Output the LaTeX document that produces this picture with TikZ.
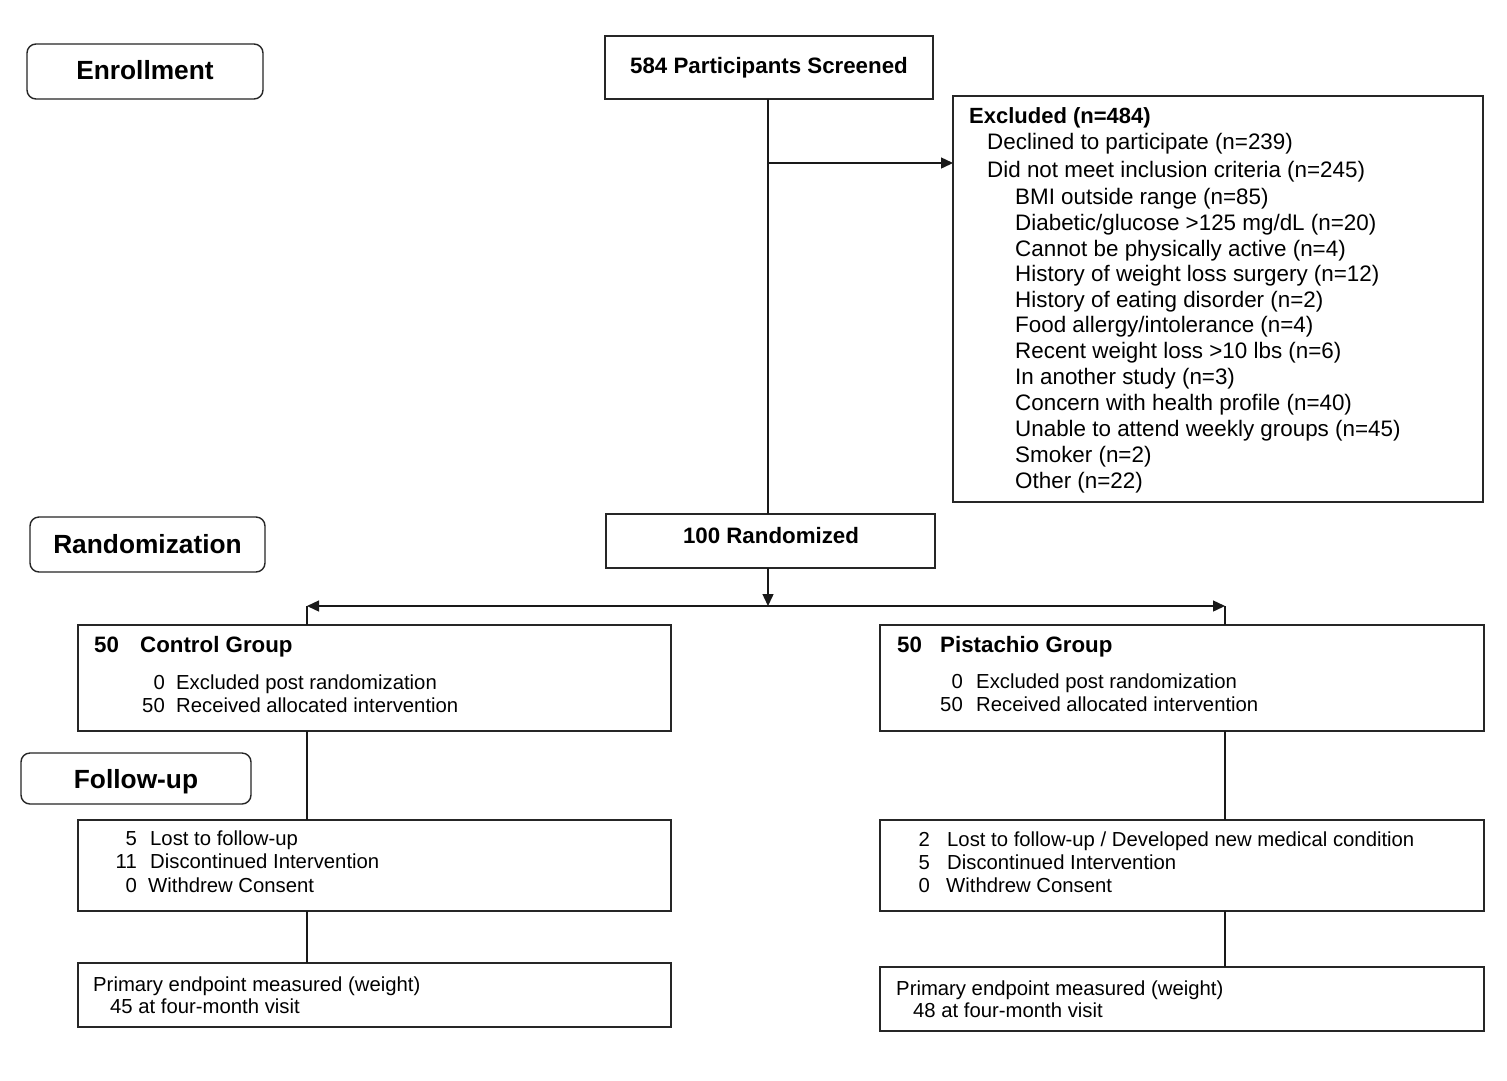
\documentclass[tikz,border=0pt]{standalone}
\usepackage{fontspec}
\setmainfont{Liberation Sans}
\usetikzlibrary{arrows.meta}
\begin{document}
\begin{tikzpicture}[x=1pt,y=-1pt,
  box/.style={draw=black!85, line width=1.4pt, inner sep=0pt, outer sep=0pt, fill=white},
  stagebox/.style={box, rounded corners=9pt},
  conn/.style={draw=black!90, line width=1.4pt},
  arr/.style={conn, -{Triangle[length=12pt,width=11pt]}},
  ex/.style={inner sep=0pt, anchor=base west, font=\fontsize{22.4}{25}\selectfont},
  exb/.style={ex, font=\fontsize{22}{25}\selectfont\bfseries},
  gt/.style={inner sep=0pt, anchor=base west, font=\fontsize{20.3}{23}\selectfont},
  gn/.style={gt, anchor=base east},
  hb/.style={inner sep=0pt, anchor=base west, font=\fontsize{22.3}{25}\selectfont\bfseries},
  hbc/.style={hb, anchor=base},
  stl/.style={inner sep=0pt, anchor=base, font=\fontsize{26.3}{29}\selectfont\bfseries}]
\fill[white] (0,0) rectangle (1507,1080);
\useasboundingbox (0,0) rectangle (1507,1080);

% stage labels
\node[stagebox, minimum width=236pt, minimum height=55pt] (enroll) at (145,71.5) {};
\node[stl] (enrollT) at (145,79.5) {Enrollment};
\node[stagebox, minimum width=235pt, minimum height=55pt] (randst) at (147.5,544.5) {};
\node[stl] (randstT) at (147.5,553.5) {Randomization};
\node[stagebox, minimum width=230pt, minimum height=51pt] (follow) at (136,778.5) {};
\node[stl] (followT) at (136,788) {Follow-up};

% screened
\node[box, minimum width=328pt, minimum height=63pt] (screen) at (769,67.5) {};
\node[hbc] (screenT) at (769,73) {584 Participants Screened};

% excluded
\node[box, minimum width=530pt, minimum height=406pt] (excl) at (1218,299) {};
\node[exb] (e0) at (969,123.5) {Excluded (n=484)};
\node[ex] (e1) at (987,149) {Declined to participate (n=239)};
\node[ex] (e2) at (987,177.5) {Did not meet inclusion criteria (n=245)};
\node[ex] (e3) at (1015,204) {BMI outside range (n=85)};
\node[ex] (e4) at (1015,230) {Diabetic/glucose >125 mg/dL (n=20)};
\node[ex] (e5) at (1015,256) {Cannot be physically active (n=4)};
\node[ex] (e6) at (1015,281.5) {History of weight loss surgery (n=12)};
\node[ex] (e7) at (1015,307) {History of eating disorder (n=2)};
\node[ex] (e8) at (1015,332.5) {Food allergy/intolerance (n=4)};
\node[ex] (e9) at (1015,358) {Recent weight loss >10 lbs (n=6)};
\node[ex] (e10) at (1015,384) {In another study (n=3)};
\node[ex] (e11) at (1015,410) {Concern with health profile (n=40)};
\node[ex] (e12) at (1015,436) {Unable to attend weekly groups (n=45)};
\node[ex] (e13) at (1015,462) {Smoker (n=2)};
\node[ex] (e14) at (1015,488) {Other (n=22)};

% randomized
\node[box, minimum width=329pt, minimum height=54pt] (randomized) at (770.5,541) {};
\node[hbc] (randomizedT) at (771,543) {100 Randomized};

% control group
\node[box, minimum width=593pt, minimum height=106pt] (ctrl) at (374.5,678) {};
\node[hb] (c50) at (94,652) {50};
\node[hb] (cT) at (140,652) {Control Group};
\node[gn] (c1n) at (165,689) {0};
\node[gt] (c1t) at (176,689) {Excluded post randomization};
\node[gn] (c2n) at (165,712) {50};
\node[gt] (c2t) at (176,712) {Received allocated intervention};

% pistachio group
\node[box, minimum width=604pt, minimum height=106pt] (pist) at (1182,678) {};
\node[hb] (p50) at (897,652) {50};
\node[hb] (pT) at (940,652) {Pistachio Group};
\node[gn] (p1n) at (963,688) {0};
\node[gt] (p1t) at (976,688) {Excluded post randomization};
\node[gn] (p2n) at (963,711) {50};
\node[gt] (p2t) at (976,711) {Received allocated intervention};

% follow-up boxes
\node[box, minimum width=593pt, minimum height=91pt] (ctrlfu) at (374.5,865.5) {};
\node[gn] (cf1n) at (137,845.5) {5};
\node[gt] (cf1t) at (150,845.5) {Lost to follow-up};
\node[gn] (cf2n) at (137,868.5) {11};
\node[gt] (cf2t) at (150,868.5) {Discontinued Intervention};
\node[gn] (cf3n) at (137,892) {0};
\node[gt] (cf3t) at (148,892) {Withdrew Consent};

\node[box, minimum width=604pt, minimum height=91pt] (pistfu) at (1182,865.5) {};
\node[gn] (pf1n) at (930,846) {2};
\node[gt] (pf1t) at (947,846) {Lost to follow-up / Developed new medical condition};
\node[gn] (pf2n) at (930,869) {5};
\node[gt] (pf2t) at (947,869) {Discontinued Intervention};
\node[gn] (pf3n) at (930,892.5) {0};
\node[gt] (pf3t) at (946,892.5) {Withdrew Consent};

% endpoint boxes
\node[box, minimum width=593pt, minimum height=64pt] (ctrlep) at (374.5,995) {};
\node[gt] (ce1) at (93,991) {Primary endpoint measured (weight)};
\node[gt] (ce2) at (110,1013) {45 at four-month visit};

\node[box, minimum width=604pt, minimum height=64pt] (pistep) at (1182,999) {};
\node[gt] (pe1) at (896,995) {Primary endpoint measured (weight)};
\node[gt] (pe2) at (913,1017) {48 at four-month visit};

% connectors
\coordinate (j1) at (768,163);
\coordinate (split) at (768,606);
\coordinate (lt) at (307,606);
\coordinate (rt) at (1225,606);
\draw[conn] (screen.south -| j1) -- (randomized.north -| j1);
\draw[arr] (j1) -- (excl.west |- j1);
\draw[arr] (randomized.south -| split) -- (split);
\draw[arr] (split) -- (lt);
\draw[arr] (split) -- (rt);
\draw[conn] (lt) -- (ctrl.north -| lt);
\draw[conn] (rt) -- (pist.north -| rt);
\draw[conn] (ctrl.south -| lt) -- (ctrlfu.north -| lt);
\draw[conn] (pist.south -| rt) -- (pistfu.north -| rt);
\draw[conn] (ctrlfu.south -| lt) -- (ctrlep.north -| lt);
\draw[conn] (pistfu.south -| rt) -- (pistep.north -| rt);
\end{tikzpicture}
\end{document}
